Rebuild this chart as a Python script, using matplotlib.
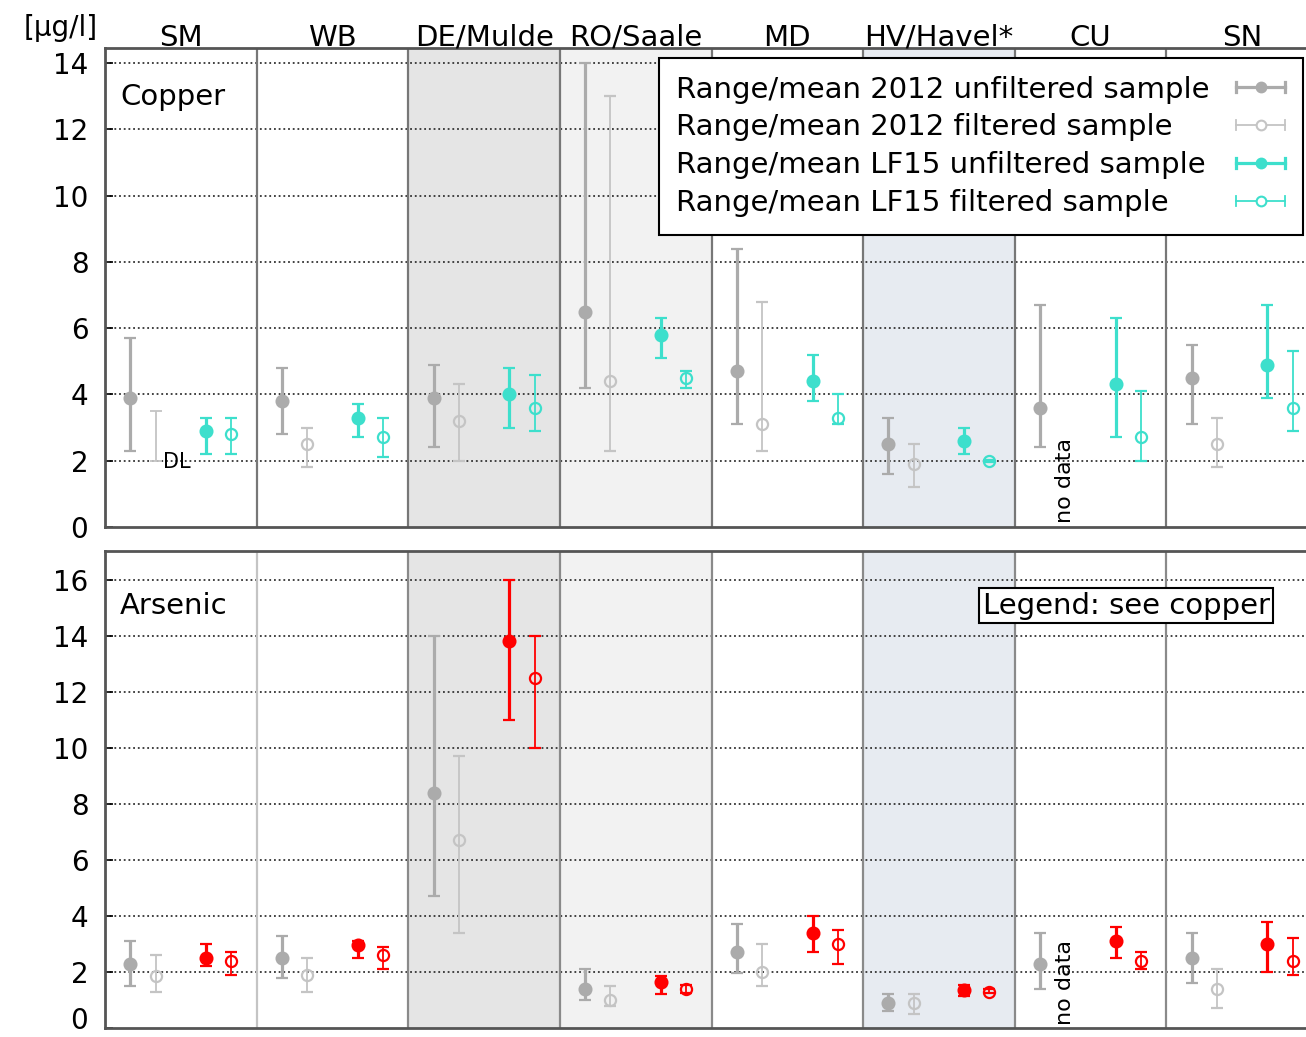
import numpy as np
import matplotlib
matplotlib.use("Agg")
import matplotlib.pyplot as plt
from matplotlib.lines import Line2D
from matplotlib.legend_handler import HandlerBase
import matplotlib.transforms as mtransforms

plt.rcParams['font.family'] = ['DejaVu Sans']

nan = np.nan
categories = ["SM", "WB", "DE/Mulde", "RO/Saale", "MD", "HV/Havel*", "CU", "SN"]

# Copper [µg/l]
cu_u12_mean = [3.9, 3.8, 3.9, 6.5, 4.7, 2.5, 3.6, 4.5]
cu_u12_lo   = [2.3, 2.8, 2.4, 4.2, 3.1, 1.6, 2.4, 3.1]
cu_u12_hi   = [5.7, 4.8, 4.9, 14.0, 8.4, 3.3, 6.7, 5.5]
cu_f12_mean = [nan, 2.5, 3.2, 4.4, 3.1, 1.9, nan, 2.5]
cu_f12_lo   = [2.0, 1.8, 2.0, 2.3, 2.3, 1.2, nan, 1.8]
cu_f12_hi   = [3.5, 3.0, 4.3, 13.0, 6.8, 2.5, nan, 3.3]
cu_u15_mean = [2.9, 3.3, 4.0, 5.8, 4.4, 2.6, 4.3, 4.9]
cu_u15_lo   = [2.2, 2.7, 3.0, 5.1, 3.8, 2.2, 2.7, 3.9]
cu_u15_hi   = [3.3, 3.7, 4.8, 6.3, 5.2, 3.0, 6.3, 6.7]
cu_f15_mean = [2.8, 2.7, 3.6, 4.5, 3.3, 2.0, 2.7, 3.6]
cu_f15_lo   = [2.2, 2.1, 2.9, 4.2, 3.1, 1.97, 2.0, 2.9]
cu_f15_hi   = [3.3, 3.3, 4.6, 4.7, 4.0, 2.03, 4.1, 5.3]

# Arsenic [µg/l]
as_u12_mean = [2.3, 2.5, 8.4, 1.4, 2.7, 0.9, 2.3, 2.5]
as_u12_lo   = [1.5, 1.8, 4.7, 1.0, 1.95, 0.6, 1.4, 1.6]
as_u12_hi   = [3.1, 3.3, 14.0, 2.1, 3.7, 1.2, 3.4, 3.4]
as_f12_mean = [1.85, 1.9, 6.7, 1.0, 2.0, 0.9, nan, 1.4]
as_f12_lo   = [1.3, 1.3, 3.4, 0.8, 1.5, 0.5, nan, 0.7]
as_f12_hi   = [2.6, 2.5, 9.7, 1.5, 3.0, 1.2, nan, 2.1]
as_u15_mean = [2.5, 2.95, 13.8, 1.65, 3.4, 1.35, 3.1, 3.0]
as_u15_lo   = [2.2, 2.5, 11.0, 1.2, 2.7, 1.15, 2.5, 2.0]
as_u15_hi   = [3.0, 3.1, 16.0, 1.85, 4.0, 1.55, 3.6, 3.8]
as_f15_mean = [2.4, 2.6, 12.5, 1.4, 3.0, 1.3, 2.4, 2.4]
as_f15_lo   = [1.9, 2.1, 10.0, 1.25, 2.3, 1.25, 2.1, 1.9]
as_f15_hi   = [2.7, 2.9, 14.0, 1.55, 3.5, 1.38, 2.7, 3.2]

legend_labels = ["Range/mean 2012 unfiltered sample",
                 "Range/mean 2012 filtered sample",
                 "Range/mean LF15 unfiltered sample",
                 "Range/mean LF15 filtered sample"]

GRAY_F = "#ababab"
GRAY_O = "#c4c4c4"
CYAN = "#3ddfcc"
RED = "#ff0000"

W, H = 1306, 1037
fig = plt.figure(figsize=(W / 100, H / 100), dpi=100)

def px_axes(x0, y0, x1, y1):
    return fig.add_axes([x0 / W, 1 - y1 / H, (x1 - x0) / W, (y1 - y0) / H])

ax_cu = px_axes(105, 48, 1318, 527)
ax_as = px_axes(105, 551, 1318, 1028)

offsets = [1 / 6, 2 / 6, 4 / 6, 5 / 6]
ng = len(categories)

def series(ax, k, mean, lo, hi, color, filled):
    x = np.arange(ng) + offsets[k]
    mean = np.asarray(mean, float); lo = np.asarray(lo, float); hi = np.asarray(hi, float)
    lw = 2.3 if filled else 1.3
    cs = 4.6 if filled else 4.0
    ok = ~np.isnan(mean)
    ax.errorbar(x[ok], mean[ok], yerr=[mean[ok] - lo[ok], hi[ok] - mean[ok]],
                fmt='o', ms=8.5 if filled else 8, color=color,
                mfc=color if filled else 'none', mec=color, mew=1.6,
                elinewidth=lw, capsize=cs, capthick=lw, zorder=4)
    nm = np.isnan(mean) & ~np.isnan(lo)
    if nm.any():
        ax.errorbar(x[nm], lo[nm], yerr=[np.zeros(nm.sum()), hi[nm] - lo[nm]],
                    fmt='none', ecolor=color, elinewidth=lw, capsize=cs,
                    capthick=lw, zorder=4)

def setup(ax, ymax, yticks, sepcolors):
    ax.set_xlim(0, ng)
    ax.set_ylim(0, ymax)
    ax.set_xticks([])
    ax.set_yticks(yticks)
    ax.tick_params(axis='y', direction='in', length=6, width=1.2, labelsize=20, pad=12)
    for s in ax.spines.values():
        s.set_color('#555555'); s.set_linewidth(2)
    ax.axvspan(2, 3, color='#e5e5e5', zorder=0, lw=0)
    ax.axvspan(3, 4, color='#f2f2f2', zorder=0, lw=0)
    ax.axvspan(5, 6, color='#e7ebf1', zorder=0, lw=0)
    for yt in yticks[1:]:
        ax.axhline(yt, color='#333333', lw=1.3, ls=(0, (1, 1.6)), zorder=1)
    for g in range(1, ng):
        ax.axvline(g, color=sepcolors[g - 1], lw=1.6, zorder=1.5)

setup(ax_cu, 14.45, list(range(0, 15, 2)), ['#777777'] * 7)
setup(ax_as, 17.03, list(range(0, 17, 2)), ['#c4c4c4'] + ['#8a8a8a'] * 6)

# keep the bottom "0" label inside the figure
lbl0 = ax_as.get_yticklabels()[0]
lbl0.set_verticalalignment('bottom')
lbl0.set_transform(lbl0.get_transform() +
                   mtransforms.ScaledTranslation(0, -7 / 100, fig.dpi_scale_trans))

series(ax_cu, 0, cu_u12_mean, cu_u12_lo, cu_u12_hi, GRAY_F, True)
series(ax_cu, 1, cu_f12_mean, cu_f12_lo, cu_f12_hi, GRAY_O, False)
series(ax_cu, 2, cu_u15_mean, cu_u15_lo, cu_u15_hi, CYAN, True)
series(ax_cu, 3, cu_f15_mean, cu_f15_lo, cu_f15_hi, CYAN, False)

series(ax_as, 0, as_u12_mean, as_u12_lo, as_u12_hi, GRAY_F, True)
series(ax_as, 1, as_f12_mean, as_f12_lo, as_f12_hi, GRAY_O, False)
series(ax_as, 2, as_u15_mean, as_u15_lo, as_u15_hi, RED, True)
series(ax_as, 3, as_f15_mean, as_f15_lo, as_f15_hi, RED, False)

# category labels
trans = mtransforms.blended_transform_factory(ax_cu.transData, ax_cu.transAxes)
for i, c in enumerate(categories):
    ax_cu.text(i + 0.5, 1.005, c, transform=trans, ha='center', va='baseline', fontsize=21)
fig.text(61 / W, 1 - 28 / H, "[µg/l]", ha='center', va='center', fontsize=20)

ax_cu.text(0.0124, 0.898, "Copper", transform=ax_cu.transAxes, ha='left', va='center', fontsize=21)
ax_as.text(0.0124, 0.885, "Arsenic", transform=ax_as.transAxes, ha='left', va='center', fontsize=21)

# DL and no data annotations
ax_cu.text(offsets[1] + 0.05, 1.95, "DL", ha='left', va='center', fontsize=15, zorder=5)
for ax in (ax_cu, ax_as):
    ax.text(6 + offsets[1], 0.12, "no data", rotation=90, ha='center', va='bottom',
            fontsize=16, zorder=5)

ax_as.text(0.842, 0.885, "Legend: see copper", transform=ax_as.transAxes, ha='center',
           va='center', fontsize=21, zorder=6,
           bbox=dict(boxstyle='square,pad=0.12', fc='white', ec='black', lw=1.5))

# legend with horizontal range handles
class RangeHandler(HandlerBase):
    def create_artists(self, legend, orig_handle, xdescent, ydescent, width, height,
                       fontsize, trans):
        y = (height - ydescent) / 2
        x0, x1 = -xdescent, width - xdescent
        c = orig_handle.get_color()
        lw = orig_handle.get_linewidth()
        h = height * 0.25
        arts = [Line2D([x0, x1], [y, y], color=c, lw=lw),
                Line2D([x0, x0], [y - h, y + h], color=c, lw=lw),
                Line2D([x1, x1], [y - h, y + h], color=c, lw=lw),
                Line2D([(x0 + x1) / 2], [y], ls='none', marker='o', ms=7,
                       mfc=orig_handle.get_markerfacecolor(), mec=c, mew=1.5)]
        for a in arts:
            a.set_transform(trans)
        return arts

proxies = [Line2D([], [], color=GRAY_F, lw=2.3, mfc=GRAY_F),
           Line2D([], [], color=GRAY_O, lw=1.3, mfc='white'),
           Line2D([], [], color=CYAN, lw=2.3, mfc=CYAN),
           Line2D([], [], color=CYAN, lw=1.3, mfc='white')]
leg = ax_cu.legend(proxies, legend_labels, handler_map={Line2D: RangeHandler()},
                   loc='upper right', bbox_to_anchor=(0.9876, 0.979), markerfirst=False,
                   fancybox=False, framealpha=1, edgecolor='black', fontsize=21,
                   handlelength=1.7, labelspacing=0.34, borderpad=0.6, handletextpad=0.9,
                   borderaxespad=0)
leg.get_frame().set_linewidth(1.5)
leg.set_zorder(10)

# left-align the label texts while keeping handles on the right
fig.canvas.draw()
renderer = fig.canvas.get_renderer()
col = leg._legend_handle_box.get_children()[0]
rows = col.get_children()
wmax = max(r.get_bbox(renderer).width for r in rows)
for r in rows:
    r.mode = 'expand'
    r.width = wmax
col.align = 'left'

fig.savefig("out.png", dpi=100)
